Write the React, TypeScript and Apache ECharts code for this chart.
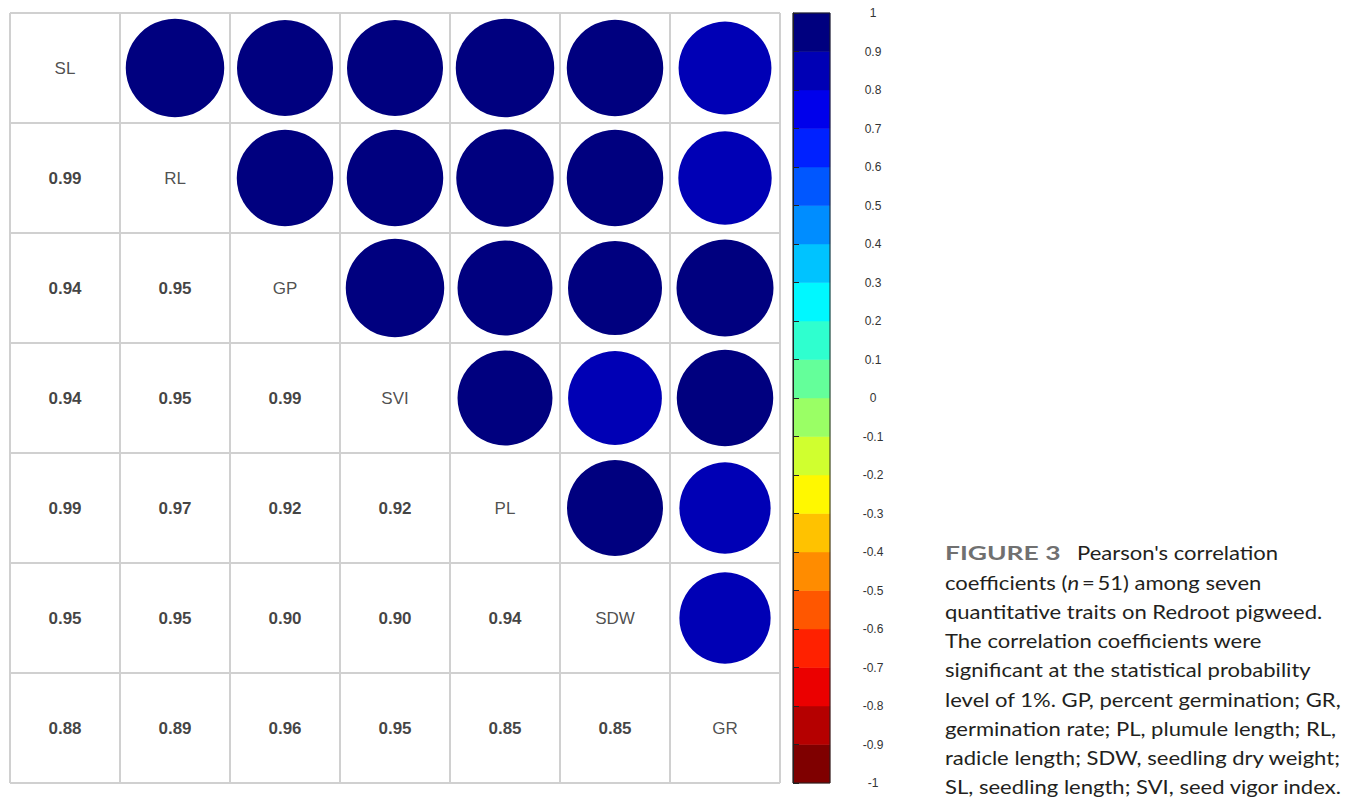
import React, { useEffect, useRef } from 'react';
import * as echarts from 'echarts';

const traits = ['SL', 'RL', 'GP', 'SVI', 'PL', 'SDW', 'GR'];

// lower-triangle correlations: row trait vs earlier traits
const corrSL: number[] = [];
const corrRL = [0.99];
const corrGP = [0.94, 0.95];
const corrSVI = [0.94, 0.95, 0.99];
const corrPL = [0.99, 0.97, 0.92, 0.92];
const corrSDW = [0.95, 0.95, 0.902, 0.898, 0.94];
const corrGR = [0.88, 0.89, 0.96, 0.95, 0.85, 0.85];
const lowerRows = [corrSL, corrRL, corrGP, corrSVI, corrPL, corrSDW, corrGR];

const colorBreaks = [-1, -0.9, -0.8, -0.7, -0.6, -0.5, -0.4, -0.3, -0.2, -0.1, 0, 0.1, 0.2, 0.3, 0.4, 0.5, 0.6, 0.7, 0.8, 0.9, 1];
const bandColors = [
  '#7F0000', '#B50000', '#EB0000', '#FF2100', '#FF5700', '#FF8C00', '#FFC200', '#FFF800', '#D0FF2F', '#9AFF65',
  '#64FF9A', '#2FFFCF', '#00F8FF', '#00C3FF', '#008DFF', '#0057FF', '#0021FF', '#0000EB', '#0000B5', '#00007F',
];

const captionLines = [
  "Pearson's correlation",
  'coefficients ({it|n}\u2009=\u200951) among seven',
  'quantitative traits on Redroot pigweed.',
  'The correlation coefficients were',
  'significant at the statistical probability',
  'level of 1%. GP, percent germination; GR,',
  'germination rate; PL, plumule length; RL,',
  'radicle length; SDW, seedling dry weight;',
  'SL, seedling length; SVI, seed vigor index.',
];

export default function App() {
  const ref = useRef<HTMLDivElement>(null);
  useEffect(() => {
    const chart = echarts.init(ref.current!, null, { renderer: 'svg' });
    const circleData: any[] = [];
    const numData: any[] = [];
    const nameData: any[] = traits.map((t, i) => [i, i, t]);
    lowerRows.forEach((row, i) =>
      row.forEach((r, j) => {
        numData.push([j, i, r]);
        circleData.push([i, j, r]);
      })
    );
    const cell = 110;
    const pieces = bandColors.map((c, k) =>
      k === bandColors.length - 1
        ? { gte: colorBreaks[k], lte: colorBreaks[k + 1], color: c }
        : { gte: colorBreaks[k], lt: colorBreaks[k + 1], color: c }
    );
    const captionFont = 'Lato, "Open Sans", sans-serif';
    const lineH = 29.25;
    const sx = 1.16;
    const children: any[] = [
      {
        type: 'text',
        x: 0,
        y: 553,
        style: { text: 'FIGURE 3', font: `bold 19px ${captionFont}`, fill: '#707070', verticalAlign: 'middle' },
        scaleX: 1.2,
      },
    ];
    captionLines.forEach((line, k) => {
      children.push({
        type: 'text',
        x: k === 0 ? (1077 - 945) / sx : 0,
        y: 553 + k * lineH,
        style: {
          text: line,
          font: `19px ${captionFont}`,
          fill: '#231f20',
          verticalAlign: 'middle',
          rich: { it: { fontStyle: 'italic', fontSize: 19, fontFamily: captionFont, fill: '#231f20' } },
        },
      });
    });
    const graphics = [{ type: 'group', x: 945, y: 0, scaleX: sx, children }];

    const gridLine = { show: true, interval: 0, lineStyle: { color: '#d0d0d0', width: 2 } };
    const cellFont = 'Liberation Sans, Arial, sans-serif';
    chart.setOption({
      animation: false,
      backgroundColor: '#ffffff',
      grid: [
        { left: 10, top: 13, width: 770, height: 770 },
        { left: 793, top: 13, width: 37, height: 770, show: true, z: 10, backgroundColor: 'transparent', borderColor: '#222', borderWidth: 1 },
      ],
      xAxis: [
        {
          type: 'category', gridIndex: 0, data: traits,
          axisLabel: { show: false }, axisTick: { show: false }, axisLine: { show: false },
          splitLine: gridLine,
        },
        { type: 'value', gridIndex: 1, min: 0, max: 1, show: false },
      ],
      yAxis: [
        {
          type: 'category', gridIndex: 0, data: traits, inverse: true,
          axisLabel: { show: false }, axisTick: { show: false }, axisLine: { show: false },
          splitLine: gridLine,
        },
        {
          type: 'value', gridIndex: 1, min: -1, max: 1, interval: 0.1, position: 'right', z: 10,
          axisLine: { show: true, lineStyle: { color: '#222', width: 1 } },
          axisTick: { show: true, inside: false, length: 6, lineStyle: { color: '#222' } },
          axisLabel: { show: true, margin: 43, align: 'center', fontSize: 12, color: '#333', fontFamily: cellFont },
          splitLine: { show: false },
        },
      ],
      visualMap: {
        type: 'piecewise', show: false, seriesIndex: 0, dimension: 2, pieces,
      },
      series: [
        {
          type: 'scatter', xAxisIndex: 0, yAxisIndex: 0, data: circleData, symbol: 'circle',
          symbolSize: (v: number[]) => cell * 0.9 * Math.sqrt(Math.abs(v[2])),
          itemStyle: { opacity: 1 },
          z: 3,
        },
        {
          type: 'scatter', xAxisIndex: 0, yAxisIndex: 0, data: nameData, symbolSize: 1,
          itemStyle: { color: 'rgba(0,0,0,0)' },
          label: {
            show: true, position: 'inside', formatter: (p: any) => p.value[2],
            fontSize: 17, color: '#222', fontFamily: cellFont,
          },
        },
        {
          type: 'scatter', xAxisIndex: 0, yAxisIndex: 0, data: numData, symbolSize: 1,
          itemStyle: { color: 'rgba(0,0,0,0)' },
          label: {
            show: true, position: 'inside', formatter: (p: any) => Number(p.value[2]).toFixed(2),
            fontSize: 17, fontWeight: 'bold', color: '#111', fontFamily: cellFont,
          },
        },
        {
          type: 'custom', xAxisIndex: 1, yAxisIndex: 1,
          data: bandColors.map((c, k) => [colorBreaks[k], colorBreaks[k + 1]]),
          renderItem: (params: any, api: any) => {
            const top = api.coord([0, api.value(1)]);
            const bottom = api.coord([1, api.value(0)]);
            return {
              type: 'rect',
              shape: { x: top[0], y: top[1], width: bottom[0] - top[0], height: bottom[1] - top[1] },
              style: { fill: bandColors[params.dataIndex], stroke: bandColors[params.dataIndex], lineWidth: 0.5 },
            };
          },
          z: 1,
        },
      ],
      graphic: graphics,
    });
    return () => chart.dispose();
  }, []);
  return (
    <div
      ref={ref}
      style={{ position: 'fixed', left: 0, top: 0, width: 1352, height: 798, background: '#fff' }}
    />
  );
}
